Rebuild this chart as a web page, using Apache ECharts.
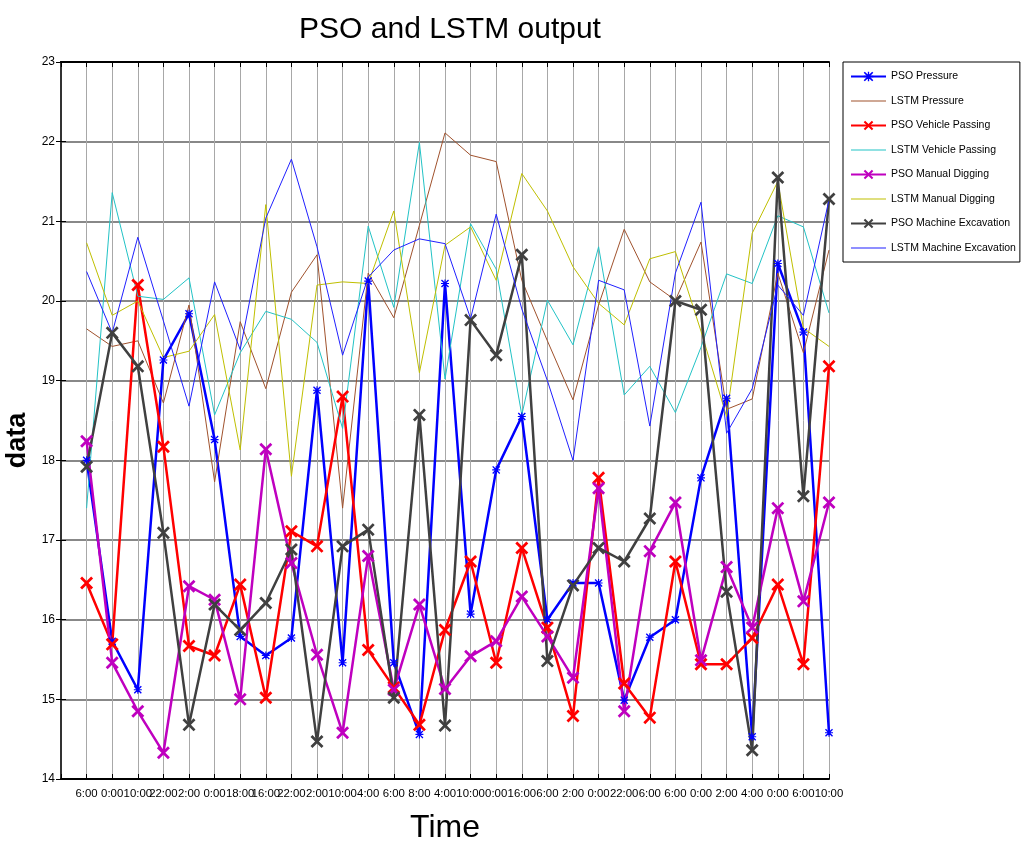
<!DOCTYPE html>
<html>
<head>
<meta charset="utf-8">
<title>PSO and LSTM output</title>
<script src="https://cdn.jsdelivr.net/npm/echarts@6/dist/echarts.min.js"></script>
<style>
html,body{margin:0;padding:0;background:#fff;}
#chart{width:1024px;height:849px;}
</style>
</head>
<body>
<div id="chart"></div>
<script>
// 时间刻度（30个点）
var times = ['6:00','0:00','10:00','22:00','2:00','0:00','18:00','16:00','22:00','2:00',
	'10:00','4:00','6:00','8:00','4:00','10:00','0:00','16:00','6:00','2:00',
	'0:00','22:00','6:00','6:00','0:00','2:00','4:00','0:00','6:00','10:00'];

var psoPressure = [18.0,15.73,15.12,19.26,19.84,18.26,15.79,15.55,15.77,18.88,
	15.46,20.25,15.46,14.56,20.22,16.07,17.88,18.55,16.0,16.46,
	16.46,14.99,15.78,16.0,17.78,18.78,14.53,20.47,19.61,14.58];
var lstmPressure = [19.65,19.43,19.5,18.72,19.95,17.73,19.74,18.9,20.11,20.58,
	17.4,20.35,19.79,20.95,22.11,21.83,21.75,20.26,19.5,18.76,
	19.95,20.9,20.24,20.01,20.74,18.64,18.77,20.35,19.35,20.64];
var psoVehicle = [16.46,15.69,20.2,18.17,15.67,15.55,16.44,15.02,17.11,16.92,
	18.8,15.62,15.15,14.68,15.87,16.73,15.46,16.9,15.9,14.79,
	17.78,15.2,14.77,16.73,15.44,15.44,15.77,16.44,15.44,19.18];
var lstmVehicle = [17.4,21.36,20.06,20.02,20.29,18.57,19.35,19.87,19.77,19.48,
	18.4,20.94,19.92,21.99,19.02,20.97,20.4,18.57,20.01,19.45,
	20.68,18.82,19.18,18.6,19.42,20.34,20.22,21.07,20.93,19.85];
var psoManual = [18.24,15.46,14.85,14.33,16.42,16.25,15.0,18.14,16.71,15.56,
	14.58,16.8,15.12,16.19,15.13,15.54,15.73,16.29,15.79,15.27,
	17.65,14.85,16.86,17.47,15.49,16.66,15.9,17.4,16.23,17.47];
var lstmManual = [20.73,19.82,20.0,19.29,19.37,19.83,18.13,21.21,17.8,20.2,
	20.24,20.22,21.13,19.1,20.7,20.93,20.26,21.6,21.13,20.43,
	19.97,19.7,20.53,20.62,19.62,18.55,20.85,21.5,19.66,19.43];
var psoMachine = [17.92,19.6,19.18,17.09,14.68,16.19,15.87,16.21,16.88,14.47,
	16.92,17.13,15.02,18.57,14.67,19.76,19.32,20.58,15.48,16.43,
	16.9,16.73,17.27,20.0,19.89,16.35,14.36,21.55,17.55,21.28];
var lstmMachine = [20.37,19.6,20.8,19.75,18.68,20.24,19.39,21.04,21.78,20.68,
	19.32,20.3,20.64,20.78,20.72,19.78,21.09,19.9,19.0,18.0,
	20.26,20.14,18.43,20.35,21.24,18.34,18.9,20.2,19.82,21.27];

var seriesNames = ['PSO Pressure','LSTM Pressure','PSO Vehicle Passing','LSTM Vehicle Passing',
	'PSO Manual Digging','LSTM Manual Digging','PSO Machine Excavation','LSTM Machine Excavation'];

var font = "'Liberation Sans',Arial,sans-serif";
var xMark = 'path://M1.5,0 L5,3.5 L8.5,0 L10,1.5 L6.5,5 L10,8.5 L8.5,10 L5,6.5 L1.5,10 L0,8.5 L3.5,5 L0,1.5 Z';
var starMark = 'path://M1.2,0 L5,3.8 L8.8,0 L10,1.2 L6.2,5 L10,8.8 L8.8,10 L5,6.2 L1.2,10 L0,8.8 L3.8,5 L0,1.2 Z M4.3,0 H5.7 V4.3 H10 V5.7 H5.7 V10 H4.3 V5.7 H0 V4.3 H4.3 Z';
// 图例里的细线（LSTM无标记）
var thinIcon = 'path://M0,0 H0.01 V0.01 H0 Z M0,5.5 H35 V6.6 H0 Z M0,12 H0.01 V11.99 H0 Z';

function pts(arr){
	return arr.map(function(v,i){ return [i+1, v]; });
}

function pso(name, data, color, sym, size){
	return {
		name: name, type: 'line', data: pts(data),
		symbol: sym, symbolSize: size, showSymbol: true,
		itemStyle: {color: color},
		lineStyle: {color: color, width: 2.5},
		emphasis: {disabled: true}
	};
}
function lstm(name, data, color){
	return {
		name: name, type: 'line', data: pts(data),
		symbol: 'none',
		itemStyle: {color: color},
		lineStyle: {color: color, width: 1},
		emphasis: {disabled: true}
	};
}

var legendData = seriesNames.map(function(n){
	return n.indexOf('LSTM') === 0 ? {name: n, icon: thinIcon} : {name: n};
});

var myChart = echarts.init(document.getElementById('chart'));
var option = {
	animation: false,
	backgroundColor: '#fff',
	title: {
		text: 'PSO and LSTM output',
		left: 445, top: 10, textAlign: 'center',
		textStyle: {fontFamily: font, fontSize: 30, fontWeight: 'normal', color: '#000'}
	},
	legend: {
		orient: 'vertical',
		left: 843, top: 62,
		itemWidth: 35, itemHeight: 12, itemGap: 13,
		padding: [9, 4, 8, 7],
		backgroundColor: '#fff',
		borderColor: '#000', borderWidth: 1,
		textStyle: {fontFamily: font, fontSize: 10.5, color: '#000'},
		data: legendData
	},
	grid: {left: 61, right: 195, top: 62, bottom: 70, containLabel: false, outerBoundsMode: 'none'},
	xAxis: [{
		type: 'value', min: 0, max: 30, interval: 1,
		name: 'Time', nameLocation: 'middle', nameGap: 33,
		nameTextStyle: {fontFamily: font, fontSize: 32, color: '#000'},
		axisLine: {show: true, lineStyle: {color: '#000', width: 2}},
		axisTick: {inside: true, length: 5, lineStyle: {color: '#000'}},
		axisLabel: {
			fontFamily: font, fontSize: 11.4, color: '#000', margin: 9,
			showMinLabel: true, showMaxLabel: true, hideOverlap: false,
			formatter: function(v){ return times[v-1] || ''; }
		},
		splitLine: {show: true, lineStyle: {color: '#a8a8a8', width: 1}}
	}, {
		type: 'value', min: 0, max: 30, interval: 1, position: 'top',
		axisLine: {show: true, lineStyle: {color: '#000', width: 2}},
		axisTick: {inside: true, length: 5, lineStyle: {color: '#000'}},
		axisLabel: {show: false},
		splitLine: {show: false}
	}],
	yAxis: [{
		type: 'value', min: 14, max: 23, interval: 1,
		name: 'data', nameLocation: 'middle', nameGap: 19, nameRotate: 90,
		nameTextStyle: {fontFamily: font, fontSize: 27, fontWeight: 'bold', color: '#000', padding: [0, 40, 0, 0]},
		axisLine: {show: true, lineStyle: {color: '#000', width: 2}},
		axisTick: {inside: true, length: 5, lineStyle: {color: '#000'}},
		axisLabel: {fontFamily: font, fontSize: 12, color: '#000', margin: 6},
		splitLine: {show: true, lineStyle: {color: '#888', width: 2}}
	}, {
		type: 'value', min: 14, max: 23, interval: 1, position: 'right',
		axisLine: {show: true, lineStyle: {color: '#333', width: 2}},
		axisTick: {inside: true, length: 5, lineStyle: {color: '#000'}},
		axisLabel: {show: false},
		splitLine: {show: false}
	}],
	series: [
		pso(seriesNames[0], psoPressure, '#0000ff', starMark, 8),
		lstm(seriesNames[1], lstmPressure, '#a0522d'),
		pso(seriesNames[2], psoVehicle, '#ff0000', xMark, 13),
		lstm(seriesNames[3], lstmVehicle, '#22c3c6'),
		pso(seriesNames[4], psoManual, '#bf00bf', xMark, 13),
		lstm(seriesNames[5], lstmManual, '#bfbf00'),
		pso(seriesNames[6], psoMachine, '#404040', xMark, 13),
		lstm(seriesNames[7], lstmMachine, '#2020ff')
	]
};
myChart.setOption(option, true);
</script>
</body>
</html>
